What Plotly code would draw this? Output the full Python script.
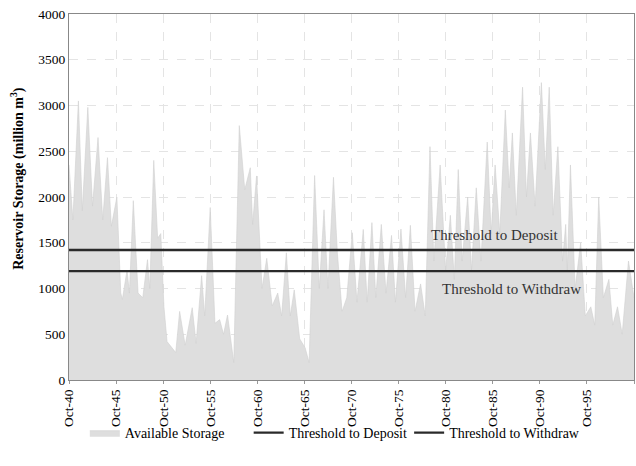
import plotly.graph_objects as go

# Monthly reservoir storage turning points (million m3)
dates = [
    "1940-10", "1941-03", "1941-10", "1942-03", "1942-10", "1943-04", "1943-11",
    "1944-05", "1944-11", "1945-04", "1945-11", "1946-04", "1946-06", "1946-12",
    "1947-03", "1947-08", "1948-02", "1948-08", "1949-02", "1949-05", "1949-10",
    "1950-03", "1950-07", "1950-11", "1951-03", "1951-09", "1952-02", "1952-07",
    "1953-02", "1953-11", "1954-04", "1954-11", "1955-03", "1955-10", "1956-04",
    "1956-10", "1957-03", "1957-08", "1958-04", "1958-11", "1959-06", "1960-01",
    "1960-04", "1960-09", "1961-04", "1961-10", "1962-05", "1962-12", "1963-05",
    "1963-11", "1964-04", "1964-09", "1965-04", "1965-11", "1966-04", "1966-11",
    "1967-05", "1967-11", "1968-04", "1968-11", "1969-04", "1969-10", "1970-04",
    "1970-11", "1971-05", "1972-01", "1972-06", "1972-12", "1973-05", "1973-12",
    "1974-06", "1975-01", "1975-06", "1976-01", "1976-07", "1977-01", "1977-07",
    "1978-02", "1978-08", "1979-02", "1979-07", "1980-03", "1980-10", "1981-04",
    "1981-09", "1982-02", "1982-07", "1983-02", "1983-07", "1984-01", "1984-07",
    "1985-03", "1985-08", "1986-01", "1986-07", "1987-02", "1987-07", "1987-11",
    "1988-04", "1988-12", "1989-05", "1989-10", "1990-04", "1990-12", "1991-05",
    "1991-10", "1992-03", "1992-09", "1993-03", "1993-07", "1993-09", "1994-01",
    "1994-07", "1995-02", "1995-08", "1996-03", "1996-08", "1997-01", "1997-07",
    "1998-02", "1998-07", "1999-01", "1999-07", "2000-03", "2000-10",
]
storage = [
    2350, 1750, 3050, 1850, 2980, 1900, 2650,
    1750, 2430, 1680, 2000, 950, 880, 1200,
    950, 1960, 950, 900, 1315, 1000, 2400,
    1550, 1600, 800, 420, 350, 300, 750,
    380, 790, 400, 1140, 700, 1885, 620,
    660, 500, 710, 190, 2780, 2080, 2320,
    1700, 2230, 1000, 1330, 810, 950, 700,
    1390, 700, 985, 450, 350, 190, 2235,
    1000, 1860, 1000, 2215, 1390, 750, 900,
    1610, 850, 1645, 850, 1720, 900, 1700,
    950, 1580, 850, 1650, 900, 1690, 750,
    1050, 700, 2550, 1300, 2350, 1200, 1800,
    1100, 2300, 1300, 2000, 1200, 2100, 1300,
    2600, 1600, 2350, 1600, 2950, 2100, 2700,
    1800, 3200, 2000, 2700, 1900, 3250, 2300,
    3200, 1800, 2550, 1300, 1700, 1200, 2350,
    1000, 1500, 700, 800, 600, 2000, 900,
    1100, 600, 800, 500, 1300, 900,
]

deposit_threshold = 1420
withdraw_threshold = 1190
period = ["1940-10-01", "2000-10-01"]

serif = "Liberation Serif, DejaVu Serif, serif"

fig = go.Figure()
fig.add_trace(go.Scatter(
    x=dates, y=storage, name="Available Storage", mode="lines",
    fill="tozeroy", fillcolor="rgb(222,222,222)",
    line=dict(color="rgb(208,208,208)", width=0.6),
    legend="legend",
))
fig.add_trace(go.Scatter(
    x=period, y=[deposit_threshold] * 2, name="Threshold to Deposit",
    mode="lines", line=dict(color="#2a2a2a", width=2.4),
    legend="legend2",
))
fig.add_trace(go.Scatter(
    x=period, y=[withdraw_threshold] * 2, name="Threshold to Withdraw",
    mode="lines", line=dict(color="#2a2a2a", width=2.4),
    legend="legend3",
))

fig.add_annotation(x="1985-12-01", y=deposit_threshold, yshift=15,
                   text="Threshold to Deposit", showarrow=False,
                   font=dict(family=serif, size=15, color="#333"))
fig.add_annotation(x="1987-10-01", y=withdraw_threshold, yshift=-18,
                   text="Threshold to Withdraw", showarrow=False,
                   font=dict(family=serif, size=15, color="#333"))

# y-axis title placed as a rotated annotation
fig.add_annotation(xref="paper", yref="paper", x=-0.09, y=0.55,
                   xanchor="center", yanchor="middle", textangle=-90,
                   text="<b>Reservoir Storage (million m<sup>3</sup>)</b>",
                   showarrow=False,
                   font=dict(family=serif, size=14, color="black"))

legend_style = dict(orientation="h", xanchor="left", y=-0.145,
                    yanchor="middle", font=dict(family=serif, size=14),
                    bgcolor="rgba(0,0,0,0)", itemwidth=30)

fig.update_layout(
    width=636, height=466,
    margin=dict(l=69, r=2, t=14, b=86),
    paper_bgcolor="white", plot_bgcolor="white",
    font=dict(family=serif, size=13, color="black"),
    showlegend=True,
    legend=dict(x=0.028, **legend_style),
    legend2=dict(x=0.318, **legend_style),
    legend3=dict(x=0.602, **legend_style),
)
fig.update_xaxes(
    type="date", range=period, tick0="1940-10-01", dtick="M60",
    tickformat="%b-%y", tickangle=-90, ticks="outside", ticklen=3,
    tickcolor="#999", showgrid=True, gridcolor="#e4e4e4", griddash="dash",
    gridwidth=0.8, showline=True, linecolor="#888", mirror=True,
    tickfont=dict(family=serif, size=13.5),
)
fig.update_yaxes(
    range=[0, 4000], dtick=500, showgrid=True, gridcolor="#e4e4e4",
    griddash="dash", gridwidth=0.8, showline=True, linecolor="#888",
    mirror=True, ticks="", zeroline=False,
    tickfont=dict(family=serif, size=13.5),
)

fig.write_html("out.html")
